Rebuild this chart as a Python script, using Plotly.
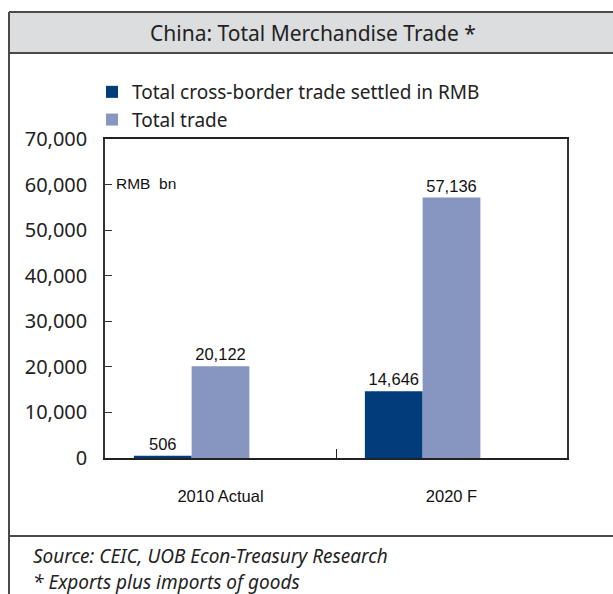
import plotly.graph_objects as go

categories = ["2010 Actual", "2020 F"]
rmb_settled = [506, 14646]
total_trade = [20122, 57136]
series_names = ["Total cross-border trade settled in RMB", "Total trade"]
y_ticks = [0, 10000, 20000, 30000, 40000, 50000, 60000, 70000]

W, H = 613, 594
L, R, T, B = 105, 46, 139, 136
PW, PH = W - L - R, H - T - B

def px(x):
    return (x - L) / PW

def py(y):
    return (H - B - y) / PH

DARK = "#023C7B"
LIGHT = "#8796C0"
FRAME = "#4a4a4a"
SANS = "Noto Sans, Lato, sans-serif"
ARIAL = "Liberation Sans, Arial, sans-serif"

fig = go.Figure()
fig.add_trace(go.Bar(
    x=categories, y=rmb_settled, name=series_names[0],
    marker=dict(color=DARK, line=dict(width=0)),
    width=0.25, offset=-0.375,
    text=rmb_settled, texttemplate="%{y:,}", textposition="outside",
    textfont=dict(family=ARIAL, size=16.5, color="#111"), cliponaxis=False,
))
fig.add_trace(go.Bar(
    x=categories, y=total_trade, name=series_names[1],
    marker=dict(color=LIGHT, line=dict(width=0)),
    width=0.25, offset=-0.125,
    text=total_trade, texttemplate="%{y:,}", textposition="outside",
    textfont=dict(family=ARIAL, size=16.5, color="#111"), cliponaxis=False,
))

shapes = [
    dict(type="rect", xref="paper", yref="paper", x0=px(9), x1=px(640), y0=py(53), y1=py(12),
         fillcolor="#DCDDDF", line=dict(width=0), layer="below"),
    dict(type="line", xref="paper", yref="paper", x0=px(9), x1=px(640), y0=py(12), y1=py(12),
         line=dict(color=FRAME, width=2)),
    dict(type="line", xref="paper", yref="paper", x0=px(9), x1=px(640), y0=py(53), y1=py(53),
         line=dict(color=FRAME, width=2)),
    dict(type="line", xref="paper", yref="paper", x0=px(9), x1=px(9), y0=py(12), y1=py(600),
         line=dict(color=FRAME, width=2)),
    dict(type="line", xref="paper", yref="paper", x0=px(9), x1=px(640), y0=py(536), y1=py(536),
         line=dict(color=FRAME, width=2)),
]

annotations = [
    dict(text="China: Total Merchandise Trade *", xref="paper", yref="paper",
         x=px(313), y=py(33), xanchor="center", yanchor="middle", showarrow=False,
         font=dict(family=SANS, size=21, color="#222")),
    dict(text="RMB\u00a0 bn", xref="paper", yref="paper", x=px(114), y=py(183),
         xanchor="left", yanchor="middle", showarrow=False,
         font=dict(family=ARIAL, size=15.5, color="#111")),
    dict(text="<i>Source: CEIC, UOB Econ-Treasury Research</i>", xref="paper", yref="paper",
         x=px(31), y=py(556), xanchor="left", yanchor="middle", showarrow=False,
         font=dict(family=SANS, size=19, color="#222")),
    dict(text="<i>* Exports plus imports of goods</i>", xref="paper", yref="paper",
         x=px(31), y=py(582), xanchor="left", yanchor="middle", showarrow=False,
         font=dict(family=SANS, size=19, color="#222")),
]

fig.update_layout(
    width=W, height=H,
    margin=dict(l=L, r=R, t=T, b=B, pad=0),
    paper_bgcolor="white", plot_bgcolor="white",
    barmode="group",
    shapes=shapes, annotations=annotations,
    showlegend=True,
    legend=dict(x=px(92), y=py(73), xanchor="left", yanchor="top",
                font=dict(family=SANS, size=19, color="#222"),
                bgcolor="rgba(0,0,0,0)", itemwidth=30, tracegroupgap=0,
                traceorder="normal"),
    xaxis=dict(type="category", showline=True, linecolor="#222", linewidth=2, mirror=True,
               ticks="inside", ticklen=9, tickcolor="#222", tickson="boundaries",
               tickfont=dict(family=ARIAL, size=16.5, color="#111"),
               ticklabelstandoff=22, showgrid=False, fixedrange=True),
    yaxis=dict(range=[0, 70000], tickvals=y_ticks, tickformat=",", showline=True,
               linecolor="#333", linewidth=1.5, mirror=True, ticks="inside", ticklen=7,
               tickcolor="#333", showgrid=False, zeroline=False, ticklabelstandoff=12,
               tickfont=dict(family=SANS, size=20, color="#222"), fixedrange=True),
)

fig.write_html("out.html")
